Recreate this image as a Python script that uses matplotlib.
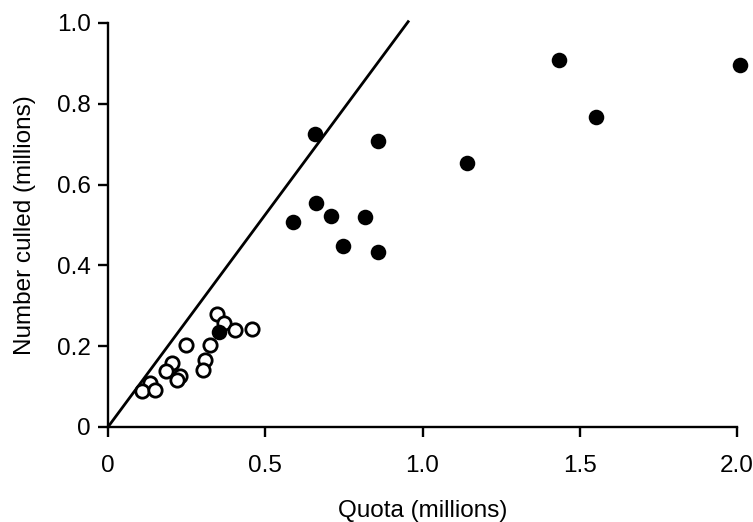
import matplotlib
matplotlib.use('Agg')
import matplotlib.pyplot as plt
import numpy as np

plt.rcParams['font.family'] = ['Liberation Sans', 'DejaVu Sans']

# filled circles (quota, number culled), millions
quota_filled = [0.658, 0.859, 1.141, 0.587, 0.660, 0.708, 0.817, 0.748, 0.858,
                1.434, 1.552, 2.010, 0.354]
culled_filled = [0.725, 0.708, 0.654, 0.507, 0.554, 0.522, 0.520, 0.448, 0.433,
                 0.908, 0.767, 0.896, 0.234]

# open circles
quota_open = [0.348, 0.369, 0.404, 0.457, 0.324, 0.248, 0.308, 0.303, 0.203,
              0.184, 0.229, 0.218, 0.134, 0.107, 0.149]
culled_open = [0.280, 0.257, 0.240, 0.243, 0.203, 0.203, 0.166, 0.141, 0.159,
               0.139, 0.126, 0.116, 0.110, 0.089, 0.092]

# reference line
line_x = [0, 0.957]
line_y = [0, 1.006]

x_ticks = [0, 0.5, 1.0, 1.5, 2.0]
x_labels = ['0', '0.5', '1.0', '1.5', '2.0']
y_ticks = [0, 0.2, 0.4, 0.6, 0.8, 1.0]
y_labels = ['0', '0.2', '0.4', '0.6', '0.8', '1.0']

fig = plt.figure(figsize=(7.53, 5.22), dpi=100)
ax = fig.add_axes([0.1434, 0.182, 0.9788 - 0.1434, 0.956 - 0.182])

ax.plot(line_x, line_y, color='black', lw=2.0, clip_on=False, solid_capstyle='butt')
ax.plot(quota_open, culled_open, 'o', ms=9.6, mfc='white', mec='black', mew=2.0,
        linestyle='none', clip_on=False)
ax.plot(quota_filled, culled_filled, 'o', ms=11.2, mfc='black', mec='black', mew=0,
        linestyle='none', clip_on=False)

ax.set_xlim(0, 2.0)
ax.set_ylim(0, 1.0)
ax.set_xticks(x_ticks)
ax.set_xticklabels(x_labels)
ax.set_yticks(y_ticks)
ax.set_yticklabels(y_labels)

for side in ['top', 'right']:
    ax.spines[side].set_visible(False)
for side in ['left', 'bottom']:
    ax.spines[side].set_linewidth(1.7)

ax.tick_params(axis='both', direction='out', length=7.5, width=1.7, labelsize=17.5)
ax.tick_params(axis='x', pad=13)
ax.tick_params(axis='y', pad=5)

ax.set_xlabel('Quota (millions)', fontsize=17.5, labelpad=16)
ax.set_ylabel('Number culled (millions)', fontsize=17.5, labelpad=15)

fig.savefig('out.png', dpi=100)
